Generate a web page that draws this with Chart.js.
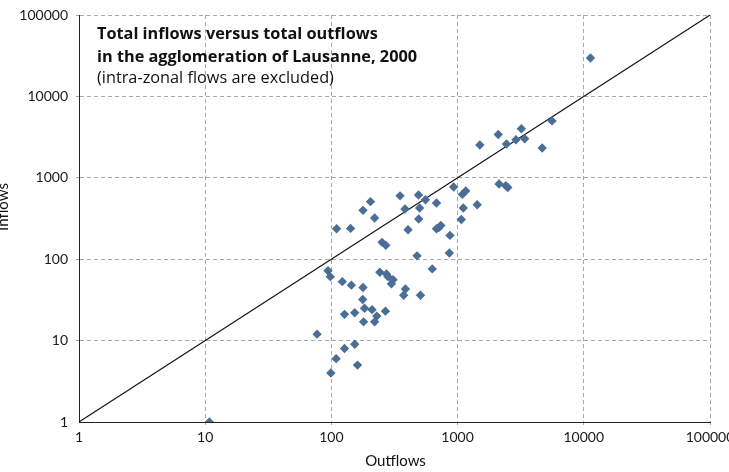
<!DOCTYPE html>
<html>
<head>
<meta charset="utf-8">
<script src="https://cdn.jsdelivr.net/npm/chart.js@4.4.1/dist/chart.umd.min.js"></script>
<style>
    html, body { margin: 0; padding: 0; background: #fff; }
    #wrap { width: 729px; height: 472px; position: relative; }
</style>
</head>
<body>
<div id="wrap"><canvas id="flowChart" width="729" height="472"></canvas></div>
<script>
// Total outflows / inflows per zone
const outflows = [11300, 5600, 3200, 2100, 1500, 2440, 2900, 3400, 4680,
    2130, 2410, 2500, 930, 1090, 1160, 1430, 1110, 1070, 870, 860, 630,
    490, 350, 556, 680, 500, 383, 204, 178, 220, 492, 405, 680, 736, 710,
    110, 142, 252, 270, 477, 94, 98, 242, 273, 281, 308, 299, 122, 144,
    178, 386, 374, 508, 177, 127, 153, 183, 210, 229, 268, 180, 220, 77,
    153, 127, 109, 161, 99, 10.8];
const inflows = [29600, 5000, 4000, 3400, 2530, 2600, 2940, 3020, 2320,
    840, 800, 760, 770, 625, 690, 467, 426, 308, 196, 119, 76,
    615, 600, 538, 490, 426, 414, 509, 398, 321, 312, 230, 237, 260, 244,
    237, 239, 161, 148, 110, 72, 61, 69, 66, 61, 56, 50, 53, 48,
    45, 43, 36, 36, 32, 21, 22, 25, 24, 20, 23, 17, 17, 12,
    9, 8, 6, 5, 4, 1];

// diagonal: inflows == outflows
const diagonal = [1, 100000];

const tickValues = [1, 10, 100, 1000, 10000, 100000];
const tickLabels = ['1', '10', '100', '1000', '10000', '100000'];

const titleLines = ['Total inflows versus total outflows', 'in the agglomeration of Lausanne, 2000'];
const subTitle = '(intra-zonal flows are excluded)';
const xTitle = 'Outflows';
const yTitle = 'Inflows';

const FONT = 'Lato, "Open Sans", sans-serif';
const TITLE_FONT = '"Open Sans", Lato, sans-serif';

const points = outflows.map((x, i) => ({ x: x, y: inflows[i] }));
const diagPoints = diagonal.map(v => ({ x: v, y: v }));

// texte in der Grafik
const textPlugin = {
    id: 'chartTexts',
    afterDraw(chart) {
        const ctx = chart.ctx;
        ctx.save();
        ctx.fillStyle = '#111';
        ctx.textAlign = 'left';
        ctx.textBaseline = 'alphabetic';
        ctx.font = 'bold 16.3px ' + TITLE_FONT;
        ctx.fillText(titleLines[0], 97, 39);
        ctx.fillText(titleLines[1], 97, 62);
        ctx.font = '16.3px ' + TITLE_FONT;
        ctx.fillText(subTitle, 97, 83);

        ctx.font = '15px ' + FONT;
        ctx.textAlign = 'center';
        ctx.fillText(xTitle, (chart.chartArea.left + chart.chartArea.right) / 2 + 1, 466);

        ctx.translate(8, 207);
        ctx.rotate(-Math.PI / 2);
        ctx.fillText(yTitle, 0, 0);
        ctx.restore();
    }
};

const gridColor = c => (c.tick && c.tick.value === 1) ? 'rgba(0,0,0,0)' : '#a8a8a8';

function logAxis(pos) {
    return {
        type: 'logarithmic',
        position: pos,
        min: 1,
        max: 100000,
        afterBuildTicks: scale => {
            scale.ticks = tickValues.map(v => ({ value: v }));
        },
        afterFit: scale => {
            scale.paddingLeft = 0;
            scale.paddingRight = 0;
            scale.paddingTop = 0;
            scale.paddingBottom = 0;
            if (pos === 'left') scale.width = 79;
            else scale.height = 50;
        },
        ticks: {
            autoSkip: false,
            maxRotation: 0,
            color: '#1a1a1a',
            font: { family: FONT, size: 14 },
            padding: pos === 'left' ? 8 : 4,
            callback: (value) => tickLabels[tickValues.indexOf(value)]
        },
        grid: {
            color: gridColor,
            lineWidth: 1,
            tickLength: 3
        },
        border: {
            display: true,
            color: '#222',
            width: 1,
            dash: [4, 3]
        }
    };
}

const chart = new Chart(document.getElementById('flowChart'), {
    type: 'scatter',
    data: {
        datasets: [
            {
                label: 'Zones',
                data: points,
                pointStyle: 'rectRot',
                pointRadius: 4.7,
                pointHoverRadius: 4.7,
                backgroundColor: '#4a6e96',
                borderColor: '#4a6e96',
                borderWidth: 0
            },
            {
                type: 'line',
                label: 'x = y',
                data: diagPoints,
                borderColor: '#111',
                borderWidth: 1.1,
                pointRadius: 0,
                fill: false
            }
        ]
    },
    options: {
        responsive: false,
        animation: false,
        layout: { padding: { left: 0, right: 19, top: 15, bottom: 0 } },
        plugins: {
            legend: { display: false },
            tooltip: { enabled: false }
        },
        scales: {
            x: logAxis('bottom'),
            y: logAxis('left')
        }
    },
    plugins: [textPlugin]
});
</script>
</body>
</html>
